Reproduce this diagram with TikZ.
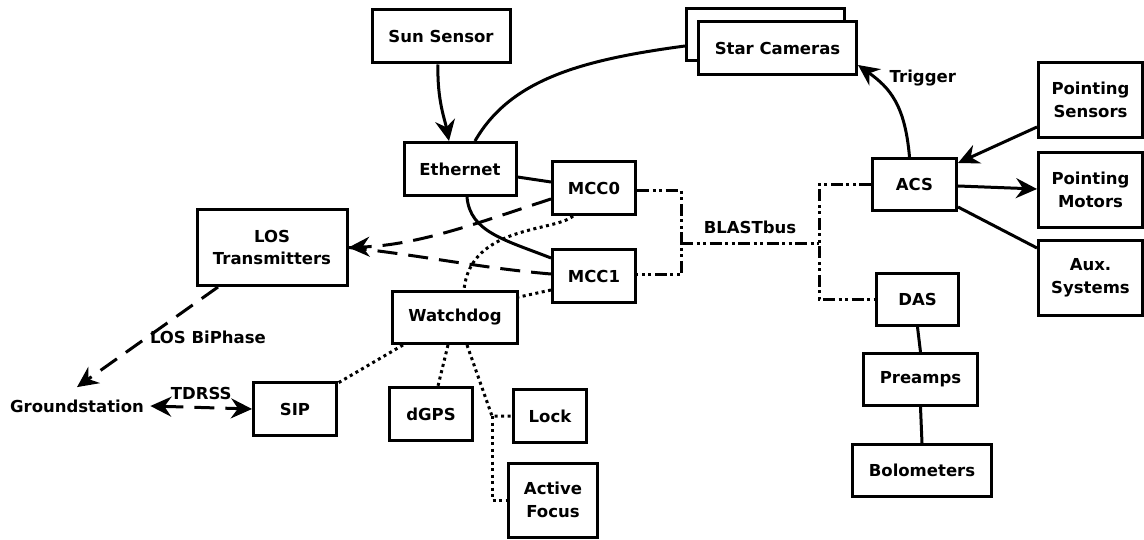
\documentclass[tikz,border=0pt]{standalone}
\usepackage{fontspec}
\setmainfont{DejaVu Sans}
\usetikzlibrary{arrows.meta,calc}
\begin{document}
\begin{tikzpicture}[x=1pt,y=-1pt, line width=3pt,
 box/.style={draw, line width=3pt, fill=white, inner sep=0pt, align=center, font=\bfseries\fontsize{16.5}{22.5}\selectfont},
 lbl/.style={font=\bfseries\fontsize{16.5}{20}\selectfont, inner sep=1pt},
 tip/.tip={Stealth[length=21pt,width=20pt,inset=7pt]},
 arr/.style={-tip},
 dsh/.style={dash pattern=on 20pt off 11pt},
 dot/.style={dash pattern=on 3pt off 3.5pt},
 bus/.style={dash pattern=on 12pt off 3.5pt on 3pt off 3.5pt on 3pt off 3.5pt},
]
\fill[white] (0,0) rectangle (1144,540);
\useasboundingbox (0,0) rectangle (1144,540);

% nodes
\node[box, minimum width=138pt, minimum height=53pt] (sun) at (441,36.5) {Sun Sensor};
\node[box, minimum width=112pt, minimum height=53pt] (eth) at (460,169) {Ethernet};
\node[box, minimum width=83pt, minimum height=53pt] (mcc0) at (594,188) {MCC0};
\node[box, minimum width=83pt, minimum height=53pt] (mcc1) at (594,276) {MCC1};
\node[box, minimum width=150pt, minimum height=76pt] (los) at (272,247.5) {LOS\\Transmitters};
\node[box, minimum width=125pt, minimum height=52pt] (wd) at (455,317.5) {Watchdog};
\node[box, minimum width=83pt, minimum height=53pt] (sip) at (295,409) {SIP};
\node[box, minimum width=83pt, minimum height=53pt] (dgps) at (431,414) {dGPS};
\node[box, minimum width=73pt, minimum height=53pt] (lock) at (550,416) {Lock};
\node[box, minimum width=89pt, minimum height=74pt] (af) at (553,500) {Active\\Focus};
\node[lbl] (gs) at (77,406) {Groundstation};
\node[box, minimum width=158pt, minimum height=52pt] (starback) at (765.5,34.5) {};
\node[box, minimum width=158pt, minimum height=53pt] (star) at (777.5,48) {Star Cameras};
\node[box, minimum width=84pt, minimum height=52pt] (acs) at (914.5,184.5) {ACS};
\node[box, minimum width=104pt, minimum height=75pt] (ps) at (1090.5,100) {Pointing\\Sensors};
\node[box, minimum width=104pt, minimum height=75pt] (pm) at (1090.5,190) {Pointing\\Motors};
\node[box, minimum width=104pt, minimum height=75pt] (aux) at (1090.5,278) {Aux.\\Systems};
\node[box, minimum width=82pt, minimum height=52pt] (das) at (917.5,299.5) {DAS};
\node[box, minimum width=114pt, minimum height=52pt] (pre) at (920.5,379.5) {Preamps};
\node[box, minimum width=139pt, minimum height=52pt] (bol) at (922,470.5) {Bolometers};

% solid connectors
\draw[arr] ([xshift=-3pt]sun.south) .. controls (437,100) and (445,120) .. ([xshift=-11pt]eth.north);
\draw ([xshift=15pt]eth.north) .. controls (510,80) and (580,60) .. ([yshift=-11.5pt]starback.west);
\draw ([yshift=-8pt]eth.east) -- ([yshift=6pt]mcc0.west);
\draw ([xshift=7pt]eth.south) .. controls (470,232) and (505,240) .. ([yshift=18pt]mcc1.west);
\draw[arr] ([xshift=-5pt]acs.north) .. controls (905,105) and (890,88) .. ([yshift=-17pt]star.east)
  node[lbl, pos=0.8, right=12pt] {Trigger};
\draw[arr] ([yshift=-27pt]ps.west) -- ([yshift=-6pt]acs.north east);
\draw[arr] ([yshift=-1.5pt]acs.east) -- ([yshift=1pt]pm.west);
\draw ([yshift=-22.5pt]acs.east) -- ([yshift=30pt]aux.west);
\draw (das.south) -- (pre.north);
\draw (pre.south) -- (bol.north);

% dashed connectors
\draw[dsh,arr] ([yshift=-11pt]mcc0.west) .. controls (480,222) and (420,245) .. (los.east);
\draw[dsh] ([yshift=2pt]mcc1.west) .. controls (480,268) and (420,255) .. (los.east);
\draw[dsh,tip-tip] ([xshift=4pt]gs.east) -- node[lbl, above=5pt] {TDRSS} (sip.west);
\draw[dsh,arr] ([xshift=-54pt]los.south) -- node[lbl, right, pos=0.5] {LOS BiPhase} ([yshift=10pt]gs.north);

% dotted connectors
\draw[dot] ([xshift=-21pt]mcc0.south) .. controls (555,232) and (470,225) .. ([xshift=9pt]wd.north);
\draw[dot] ([yshift=-14pt]mcc1.west) -- ([yshift=20.5pt]wd.east);
\draw[dot] ([xshift=12pt]wd.south west) -- ([yshift=-2pt]sip.north east);
\draw[dot] ([xshift=-7pt]wd.south) -- ([xshift=7pt]dgps.north);
\coordinate (j) at (492,416);
\draw[dot] ([xshift=12pt]wd.south) -- (j) -- (lock.west);
\draw[dot] (j) |- (af.west);

% BLASTbus
\coordinate (bl) at (681,244);
\coordinate (br) at (819,244);
\draw[bus] ([yshift=-3pt]mcc0.east) -| (bl) |- ([yshift=1pt]mcc1.east);
\draw[bus] (bl) -- node[lbl, above=8pt] {BLASTbus} (br);
\draw[bus] (acs.west) -| (br) |- (das.west);
\end{tikzpicture}
\end{document}
